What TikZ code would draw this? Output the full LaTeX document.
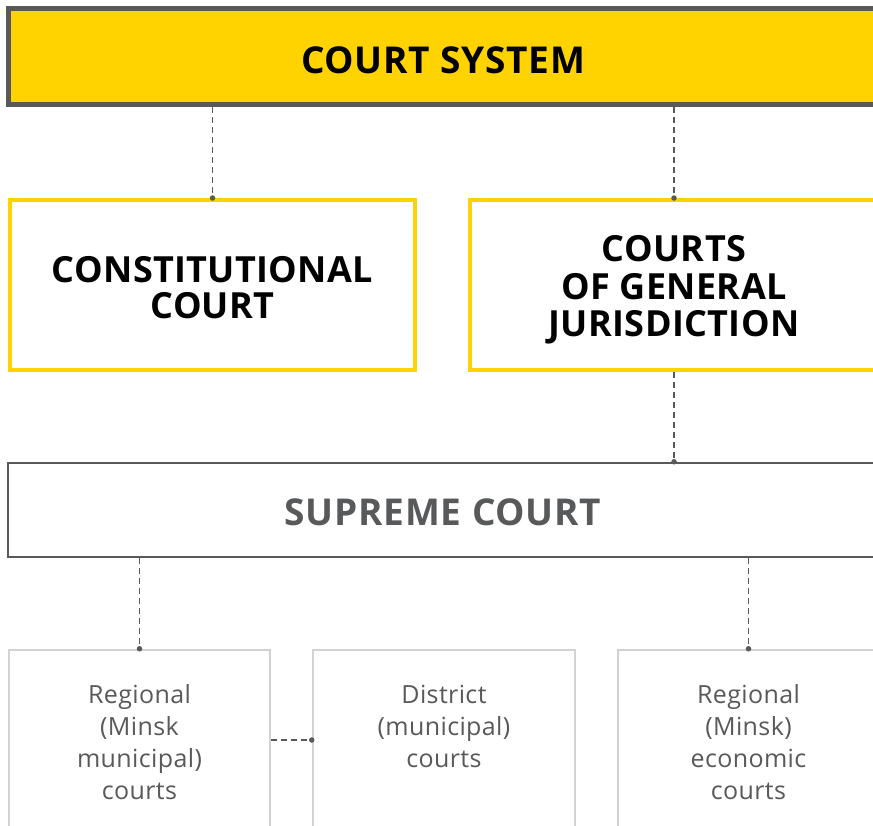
\documentclass[tikz,border=0pt]{standalone}
\usepackage{fontspec}
\setmainfont{Open Sans}
\newfontfamily\headfont[LetterSpace=2]{Open Sans}
\newfontfamily\headfontb[LetterSpace=1]{Open Sans}
\newfontfamily\bodyfont[LetterSpace=1.5]{Open Sans}
% push content down by half of #1
\newcommand\pushdn[2]{\raisebox{0pt}[\dimexpr\height+#1\relax][\depth]{#2}}
\newcommand\stk[1]{\begin{tabular}{@{}c@{}}#1\end{tabular}}
\definecolor{ey}{HTML}{FFD300}
\definecolor{dg}{HTML}{58595B}
\definecolor{lg}{HTML}{D2D2D2}
\tikzset{
  topbox/.style={draw=dg,fill=ey,line width=5pt,minimum width=869.5pt,minimum height=96pt,inner sep=0pt,font=\headfont\fontsize{37}{36}\selectfont\bfseries,text=black},
  ybox/.style={draw=ey,fill=white,line width=4pt,minimum height=170pt,inner sep=0pt,font=\headfontb\fontsize{36}{35}\selectfont\bfseries,text=black},
  sbox/.style={draw=dg,fill=white,line width=2.5pt,minimum width=870pt,minimum height=94pt,inner sep=0pt,font=\headfont\fontsize{37}{36}\selectfont\bfseries,text=dg},
  lbox/.style={draw=lg,fill=white,line width=2.5pt,minimum height=184pt,inner sep=0pt,align=center,font=\bodyfont\fontsize{25}{32}\selectfont,text=dg},
  conn/.style={draw=dg,line width=1.5pt,dash pattern=on 6pt off 4pt},
  dot/.style={circle,fill=dg,inner sep=0pt,minimum size=5.5pt}
}
\begin{document}
\begin{tikzpicture}[x=1pt,y=-1pt]
\useasboundingbox (0,0) rectangle (873,825);
\clip (0,0) rectangle (873,825);
\node[topbox] (top) at (443.25,56.5) {\pushdn{8pt}{COURT SYSTEM}};
\node[ybox,minimum width=405pt] (cc) at (212.5,285) {\pushdn{15pt}{\stk{CONSTITUTIONAL\\COURT}}};
\node[ybox,minimum width=408pt,font=\headfontb\fontsize{36}{37}\selectfont\bfseries] (cgj) at (674,285) {\pushdn{13pt}{\stk{COURTS\\OF GENERAL\\JURISDICTION}}};
\node[sbox] (sc) at (443,510) {\pushdn{4pt}{SUPREME COURT}};
\node[lbox,minimum width=261pt] (b1) at (139.5,742) {Regional\\(Minsk\\municipal)\\courts};
\node[lbox,minimum width=262pt] (b2) at (444,742) {District\\(municipal)\\courts\\\mbox{}};
\node[lbox,minimum width=261pt] (b3) at (748.5,742) {Regional\\(Minsk)\\economic\\courts};
\draw[conn] (top.south -| cc.north) -- (cc.north) node[dot]{};
\draw[conn] (top.south -| cgj.north) -- (cgj.north) node[dot]{};
\draw[conn] (cgj.south) -- (cgj.south |- sc.north) node[dot]{};
\draw[conn] (sc.south -| b1.north) -- (b1.north) node[dot]{};
\draw[conn] (sc.south -| b3.north) -- (b3.north) node[dot]{};
\draw[conn] ([yshift=2pt]b1.east) -- ([yshift=2pt]b2.west) node[dot]{};
\end{tikzpicture}
\end{document}
